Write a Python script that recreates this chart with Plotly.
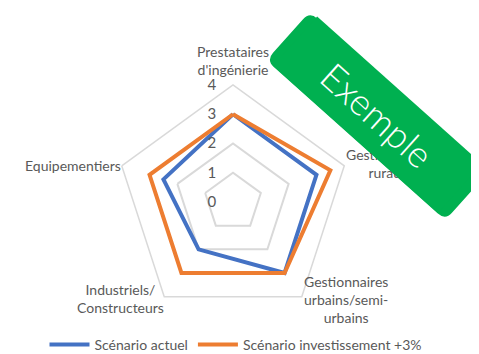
import math
import plotly.graph_objects as go

# the page body has an 8px margin, so the figure is drawn 8px in from the window corner;
# the figure is made a bit taller than the window so the legend can sit low
OFF = 8
WF, HF = 479 - OFF, 354 - OFF + 20

categories = [
    "Prestataires<br>d'ingénierie",
    "Gestionnaires<br>ruraux",
    "Gestionnaires<br>urbains/semi-<br>urbains",
    "Industriels/<br>Constructeurs",
    "Equipementiers",
]
actuel = [3, 3, 3, 2, 2.5]
invest = [3, 3.5, 3, 3, 3]
series_names = ["Scénario actuel", "Scénario investissement +3%"]
series_colors = ["#4472C4", "#ED7D31"]
radial_ticks = [0, 1, 2, 3, 4]

grey_txt = "#595959"
grid = "#D9D9D9"
green = "#00B050"
FONT = "Lato"


def xp(px):
    return (px - OFF) / WF


def yp(py):
    return 1 - (py - OFF) / HF


fig = go.Figure()
for name, vals, col in zip(series_names, [actuel, invest], series_colors):
    fig.add_trace(go.Scatterpolar(
        r=vals + vals[:1], theta=categories + categories[:1],
        mode="lines", name=name,
        line=dict(color=col, width=4),
    ))

# radar centre and outer radius (screen pixels)
cx, cy, R = 233, 202, 117
fig.update_layout(
    width=WF, height=HF,
    margin=dict(l=0, r=0, t=0, b=0),
    paper_bgcolor="white",
    font=dict(family=FONT, size=14, color=grey_txt),
    polar=dict(
        domain=dict(x=[xp(cx - R), xp(cx + R)], y=[yp(cy + R), yp(cy - R)]),
        bgcolor="white",
        gridshape="linear",
        radialaxis=dict(
            range=[0, 4], tickvals=radial_ticks, showline=False,
            gridcolor=grid, gridwidth=1.5, ticks="outside", ticklen=11,
            tickcolor="rgba(0,0,0,0)", side="counterclockwise",
            tickfont=dict(size=15, color=grey_txt), angle=90, tickangle=90,
        ),
        angularaxis=dict(
            direction="clockwise", rotation=90, showgrid=False,
            showline=True, linecolor=grid, linewidth=1.5, ticks="",
            showticklabels=False,
        ),
    ),
    legend=dict(
        orientation="h", x=xp(236), xanchor="center", y=yp(345), yanchor="middle",
        font=dict(size=14, color=grey_txt), itemwidth=40,
    ),
)

# category labels around the outer pentagon: (xanchor, yanchor, dx, dy)
label_pos = [
    ("center", "bottom", 0, -5),
    ("left", "middle", 0, -2),
    ("left", "middle", 0, 3),
    ("right", "middle", 2, 2),
    ("right", "middle", 1, 0),
]
for i, (lab, (xa, ya, dx, dy)) in enumerate(zip(categories, label_pos)):
    a = math.radians(360 / len(categories) * i)
    vx, vy = cx + R * math.sin(a), cy - R * math.cos(a)
    fig.add_annotation(text=lab, x=xp(vx + dx), y=yp(vy + dy), xref="paper", yref="paper",
                       xanchor=xa, yanchor=ya, align="center", showarrow=False,
                       font=dict(size=14, color=grey_txt))

# "Exemple" banner: rounded rotated rectangle + rotated annotation box on top of the labels
bx, by, ang, L, Wd, rad = 377.5, 116, 41.8, 240, 65, 10
ca, sa = math.cos(math.radians(ang)), math.sin(math.radians(ang))


def P(u, v):
    px = bx + u * ca - v * sa
    py = by + u * sa + v * ca
    return f"{xp(px):.5f},{yp(py):.5f}"


hl, hw = L / 2, Wd / 2
path = (
    f"M{P(-hl + rad, -hw)} L{P(hl - rad, -hw)} Q{P(hl, -hw)} {P(hl, -hw + rad)} "
    f"L{P(hl, hw - rad)} Q{P(hl, hw)} {P(hl - rad, hw)} "
    f"L{P(-hl + rad, hw)} Q{P(-hl, hw)} {P(-hl, hw - rad)} "
    f"L{P(-hl, -hw + rad)} Q{P(-hl, -hw)} {P(-hl + rad, -hw)} Z"
)
fig.add_shape(type="path", path=path, xref="paper", yref="paper",
              fillcolor=green, line=dict(width=0), layer="above")
fig.add_annotation(text="Exemple", x=xp(bx), y=yp(by - 2), xref="paper", yref="paper",
                   xanchor="center", yanchor="middle", showarrow=False, textangle=ang,
                   width=L - 2 * rad, height=Wd, borderpad=0, bgcolor=green,
                   font=dict(family=FONT, size=37, color="white", weight=300))

fig.write_html("out.html")
